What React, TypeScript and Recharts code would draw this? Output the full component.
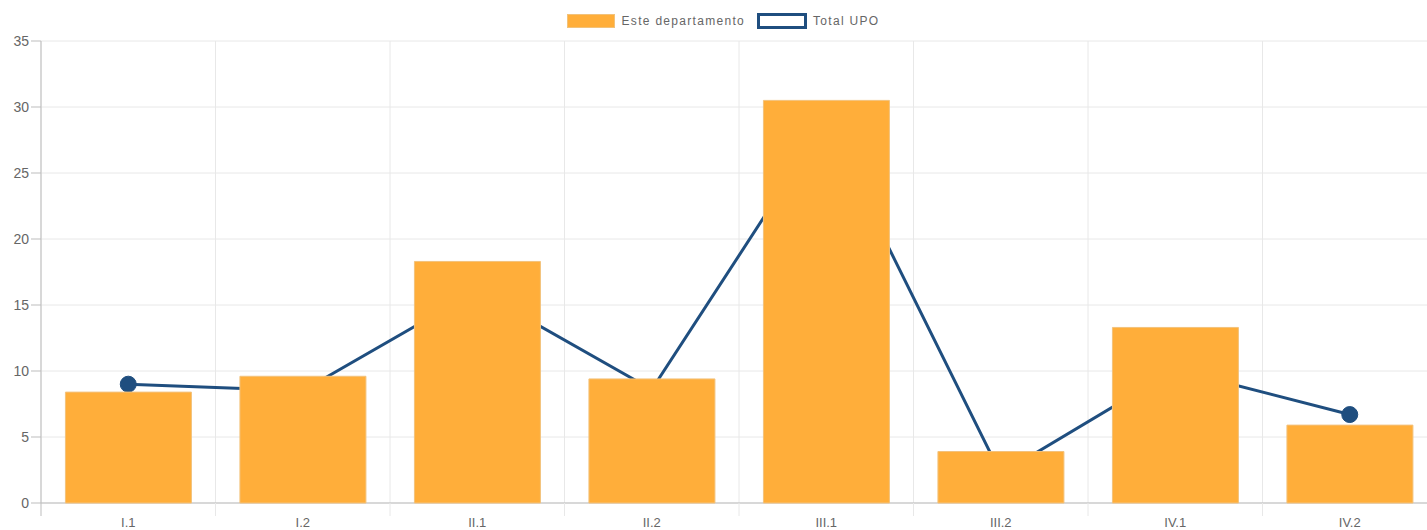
import { ComposedChart, Bar, Line, XAxis, YAxis, CartesianGrid } from 'recharts'

const categories = ['I.1', 'I.2', 'II.1', 'II.2', 'III.1', 'III.2', 'IV.1', 'IV.2']
const departmentValues = [8.4, 9.6, 18.3, 9.4, 30.5, 3.9, 13.3, 5.9]
const totalUpoValues = [9.0, 8.5, 16.1, 8.6, 28.9, 2.2, 10.1, 6.7]
const yTicks = [0, 5, 10, 15, 20, 25, 30, 35]

const W = 1440
const H = 530
const MARGIN = { top: 41, right: 3, left: 0, bottom: 0 }
const Y_AXIS_W = 41
const X_AXIS_H = 27
const PLOT_W = W - MARGIN.left - MARGIN.right - Y_AXIS_W
const BAND = PLOT_W / categories.length

const ORANGE = '#FFAE3A'
const BLUE = '#1F4E7F'
const GRID = '#e8e8e8'
const AXIS = '#bdbdbd'
const TEXT = '#666'
const FONT = 'Arial, "Liberation Sans", sans-serif'

const data = categories.map((name, i) => ({
  name,
  dept: departmentValues[i],
  total: totalUpoValues[i],
}))

// tick label plus the boundary tick mark on its left side
const XTick = ({ x, y, payload, index }: any) => {
  const bx = x - BAND / 2
  return (
    <g>
      <line x1={bx} x2={bx} y1={y - 15} y2={y - 2} stroke={index === 0 ? AXIS : GRID} />
      <text x={x} y={y} dy="0.71em" textAnchor="middle" fill={TEXT} fontSize={13} fontFamily={FONT}>
        {payload.value}
      </text>
    </g>
  )
}

export default function App() {
  return (
    <div style={{ position: 'fixed', inset: 0, overflow: 'hidden', background: '#fff' }}>
      <div style={{ position: 'absolute', left: 0, top: 0, width: W, height: H }}>
        {/* Legend */}
        <div
          style={{
            position: 'absolute',
            top: 13,
            left: 0,
            width: W,
            display: 'flex',
            justifyContent: 'center',
            alignItems: 'center',
            fontFamily: FONT,
            fontSize: 12,
            color: TEXT,
            letterSpacing: 1.3,
            transform: 'translateX(3px)',
          }}
        >
          <div style={{ width: 48, height: 14, background: ORANGE, border: '1px solid #f2c27a', boxSizing: 'border-box' }} />
          <span style={{ marginLeft: 7, marginRight: 12 }}>Este departamento</span>
          <div style={{ width: 50, height: 16, background: '#fff', border: `3px solid ${BLUE}`, boxSizing: 'border-box' }} />
          <span style={{ marginLeft: 6 }}>Total UPO</span>
        </div>

        <ComposedChart width={W} height={H} data={data} margin={MARGIN} barCategoryGap="14%">
          <CartesianGrid
            stroke={GRID}
            verticalCoordinatesGenerator={({ offset }: any) =>
              Array.from({ length: categories.length + 1 }, (_, i) => offset.left + i * (offset.width / categories.length))
            }
          />
          <XAxis
            dataKey="name"
            height={X_AXIS_H}
            tickLine={false}
            tickSize={13}
            tickMargin={2}
            stroke={AXIS}
            interval={0}
            tick={<XTick />}
          />
          <YAxis
            width={Y_AXIS_W}
            domain={[0, 35]}
            ticks={yTicks}
            tickSize={10}
            tickMargin={2}
            stroke={AXIS}
            tick={{ fill: TEXT, fontSize: 14, fontFamily: FONT }}
          />
          <Line
            dataKey="total"
            type="linear"
            stroke={BLUE}
            strokeWidth={3}
            dot={{ r: 8, fill: BLUE, stroke: BLUE, strokeWidth: 1 }}
            isAnimationActive={false}
            zIndex={100}
          />
          <Bar
            dataKey="dept"
            fill={ORANGE}
            stroke="#f3c27c"
            strokeWidth={1}
            isAnimationActive={false}
            zIndex={900}
          />
        </ComposedChart>
      </div>
    </div>
  )
}
